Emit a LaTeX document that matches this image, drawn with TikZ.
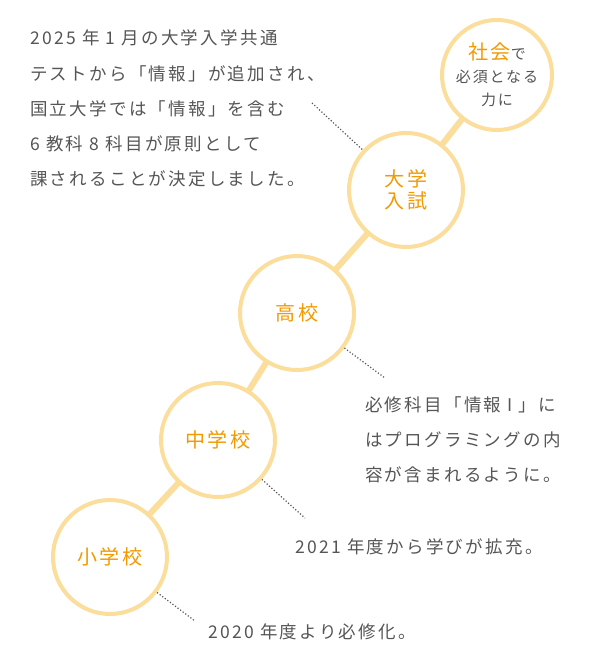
\documentclass[tikz,border=0pt]{standalone}
\usepackage{fontspec}
\setmainfont{Noto Sans CJK JP}
\newfontfamily\spaced[LetterSpace=13]{Noto Sans CJK JP}
\definecolor{ring}{HTML}{FBDD9C}
\definecolor{orng}{HTML}{F29A00}
\definecolor{txt}{HTML}{555555}
\begin{document}
\begin{tikzpicture}[x=1pt,y=-1pt,
  stage/.style={circle,draw=ring,line width=4pt,fill=white,minimum size=114pt,inner sep=0pt,text=orng,font=\spaced\fontsize{20}{25}\selectfont,align=center},
  link/.style={draw=ring,line width=6pt},
  note/.style={anchor=west,text=txt,font=\spaced\fontsize{17.5}{35.2}\selectfont,align=left,inner sep=0pt},
  lead/.style={draw=txt,dotted,line width=1.2pt}]
\useasboundingbox (0,0) rectangle (600,660);
\coordinate (c5) at (497,75);
\coordinate (c4) at (406,190);
\coordinate (c3) at (297,313);
\coordinate (c2) at (218,440);
\coordinate (c1) at (110,557);
\draw[link] (c1)--(c2)--(c3)--(c4)--(c5);
\node[stage,minimum size=110pt] (s5) at (c5) {{\fontsize{20}{22}\selectfont 社会}{\color{txt}\fontsize{15}{20}\selectfont で}\\[-2pt]{\color{txt}\fontsize{15}{22}\selectfont 必須となる}\\[-2pt]{\color{txt}\fontsize{15}{22}\selectfont 力に}};
\node[stage] (s4) at (c4) {大学\\[-3pt]入試};
\node[stage] (s3) at (c3) {高校};
\node[stage] (s2) at (c2) {中学校};
\node[stage] (s1) at (c1) {小学校};
\node[note,anchor=north west] (t4) at (30,30) {2025 年 1 月の大学入学共通\\テストから「情報」が追加され、\\国立大学では「情報」を含む\\6 教科 8 科目が原則として\\課されることが決定しました。};
\node[note,anchor=north west] (t3) at (365,396) {必修科目「情報 I 」に\\はプログラミングの内\\容が含まれるように。};
\node[note] (t2) at (295,547) {2021 年度から学びが拡充。};
\node[note] (t1) at (208,632) {2020 年度より必修化。};
\coordinate (d4) at (312,103);
\coordinate (d3) at (385,378);
\coordinate (d2) at (305,518);
\coordinate (d1) at (195,621);
\draw[lead] (d4)--(s4);
\draw[lead] (s3)--(d3);
\draw[lead] (s2)--(d2);
\draw[lead] (s1)--(d1);
\end{tikzpicture}
\end{document}
